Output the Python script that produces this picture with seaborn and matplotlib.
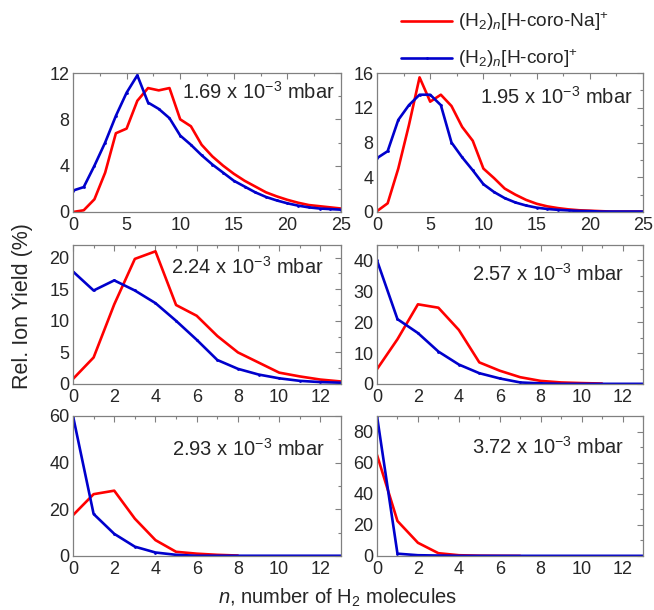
import numpy as np
import pandas as pd
import matplotlib
matplotlib.use("Agg")
import matplotlib.pyplot as plt
from matplotlib.ticker import MultipleLocator
import seaborn as sns

# ---------------- data ----------------
pressures = ["1.69", "1.95", "2.24", "2.57", "2.93", "3.72"]

na_169 = [0.0, 0.15, 1.1, 3.4, 6.8, 7.2, 9.6, 10.7, 10.5, 10.7, 8.0, 7.4, 5.8, 4.8, 4.0,
          3.3, 2.7, 2.2, 1.7, 1.35, 1.05, 0.8, 0.6, 0.5, 0.4, 0.3]
h_169 = [1.85, 2.15, 4.0, 6.0, 8.3, 10.3, 11.8, 9.45, 8.9, 8.1, 6.6, 5.8, 4.9, 4.1, 3.4,
         2.7, 2.2, 1.7, 1.3, 1.0, 0.75, 0.55, 0.4, 0.3, 0.25, 0.2]

na_195 = [0.1, 1.0, 5.0, 10.0, 15.5, 12.7, 13.5, 12.2, 9.8, 8.2, 5.0, 3.9, 2.7, 2.0, 1.4,
          0.95, 0.65, 0.45, 0.3, 0.2, 0.15, 0.1, 0.05, 0.05, 0.05, 0.05]
h_195 = [6.2, 7.0, 10.6, 12.3, 13.5, 13.5, 12.3, 8.0, 6.3, 4.8, 3.2, 2.3, 1.6, 1.1, 0.75,
         0.5, 0.35, 0.25, 0.18, 0.12, 0.1, 0.05, 0.05, 0.05, 0.05, 0.05]

na_224 = [0.8, 4.2, 12.6, 19.8, 21.0, 12.5, 10.8, 7.6, 5.0, 3.4, 1.8, 1.2, 0.7, 0.4]
h_224 = [17.8, 14.8, 16.4, 14.8, 12.8, 10.0, 7.0, 3.8, 2.4, 1.5, 0.9, 0.5, 0.3, 0.2]

na_257 = [4.8, 14.5, 25.8, 24.7, 17.5, 7.0, 4.3, 2.2, 1.0, 0.5, 0.3, 0.15]
h_257 = [40.0, 21.0, 16.5, 10.5, 6.3, 3.5, 1.8, 0.5, 0.2, 0.05, 0.05, 0.05, 0.05, 0.05]

na_293 = [17.5, 26.5, 28.0, 16.0, 6.8, 1.8, 1.0, 0.5, 0.2]
h_293 = [60.0, 18.0, 9.5, 4.0, 1.5, 0.5, 0.1, 0.1, 0.1, 0.1, 0.1, 0.1, 0.1, 0.1]

na_372 = [65.0, 22.5, 8.5, 1.8, 0.5, 0.2, 0.1, 0.05]
h_372 = [90.0, 1.5, 0.5, 0.3, 0.1, 0.1, 0.1, 0.1, 0.1, 0.1, 0.1, 0.1, 0.1, 0.1]

na_series = [na_169, na_195, na_224, na_257, na_293, na_372]
h_series = [h_169, h_195, h_224, h_257, h_293, h_372]

xmax = [25, 25, 13, 13, 13, 13]
xmajor = [5, 5, 2, 2, 2, 2]
xminor = [2.5, 2.5, 1, 1, 1, 1]
ymax = [12, 16, 22, 45, 60, 90]
ymajor = [4, 4, 5, 10, 20, 20]
yminor = [2, 2, 2.5, 5, 10, 10]

label_na = r"(H$_2$)$_{\mathit{n}}$[H-coro-Na]$^{+}$"
label_h = r"(H$_2$)$_{\mathit{n}}$[H-coro]$^{+}$"

# ---------------- style ----------------
sns.set_style("white")
plt.rcParams["font.family"] = ["Liberation Sans", "DejaVu Sans"]
plt.rcParams["mathtext.fontset"] = "custom"
plt.rcParams["mathtext.rm"] = "Liberation Sans"
plt.rcParams["mathtext.it"] = "Liberation Sans:italic"
plt.rcParams["mathtext.default"] = "regular"

RED = "#ff0000"
BLUE = "#0000cc"

fig = plt.figure(figsize=(6.54, 6.10), dpi=100)

lefts = [73 / 654, 377 / 654]
widths = [268 / 654, 266 / 654]
bottoms = [1 - 212 / 610, 1 - 384 / 610, 1 - 556 / 610]
heights = [139 / 610, 139 / 610, 140 / 610]

text_pos = [(0.975, 0.94), (0.963, 0.91), (0.935, 0.92), (0.93, 0.87), (0.94, 0.84), (0.93, 0.86)]

axes = []
for i in range(6):
    r, c = divmod(i, 2)
    ax = fig.add_axes([lefts[c], bottoms[r], widths[c], heights[r]])
    axes.append(ax)
    na = na_series[i]
    hh = h_series[i]
    df_na = pd.DataFrame({"n": np.arange(len(na)), "y": na})
    df_h = pd.DataFrame({"n": np.arange(len(hh)), "y": hh})
    sns.lineplot(data=df_na, x="n", y="y", ax=ax, color=RED, linewidth=1.9,
                 label=label_na if i == 0 else None, legend=False)
    sns.lineplot(data=df_h, x="n", y="y", ax=ax, color=BLUE, linewidth=1.9,
                 marker="o", markersize=2.0, markeredgewidth=0,
                 label=label_h if i == 0 else None, legend=False)
    ax.set_xlim(0, xmax[i])
    ax.set_ylim(0, ymax[i])
    ax.xaxis.set_major_locator(MultipleLocator(xmajor[i]))
    ax.xaxis.set_minor_locator(MultipleLocator(xminor[i]))
    ax.yaxis.set_major_locator(MultipleLocator(ymajor[i]))
    ax.yaxis.set_minor_locator(MultipleLocator(yminor[i]))
    ax.set_xlabel("")
    ax.set_ylabel("")
    ax.tick_params(which="both", direction="in", top=True, right=True,
                   color="#808080", labelsize=13)
    ax.tick_params(axis="x", which="both", pad=3.5)
    ax.tick_params(axis="y", which="both", pad=2.5)
    ax.tick_params(which="major", length=4, width=0.8)
    ax.tick_params(which="minor", length=2.5, width=0.8)
    for s in ax.spines.values():
        s.set_color("#808080")
        s.set_linewidth(0.9)
    tx, ty = text_pos[i]
    ax.text(tx, ty, pressures[i] + r" x 10$^{-3}$ mbar", transform=ax.transAxes,
            ha="right", va="top", fontsize=14.5)

handles, labels = axes[0].get_legend_handles_labels()
fig.legend(handles, labels, loc="upper left", bbox_to_anchor=(393 / 654, 1 - 3 / 610),
           frameon=False, fontsize=13.8, handlelength=2.7, handletextpad=0.3,
           labelspacing=0.75, borderaxespad=0)

fig.text(23 / 654, 1 - 306 / 610, "Rel. Ion Yield (%)", rotation=90,
         ha="center", va="center", fontsize=15.5)
fig.text(338 / 654, 1 - 598 / 610, r"$\mathit{n}$, number of H$_2$ molecules",
         ha="center", va="center", fontsize=14.5)

fig.savefig("out.png", dpi=100)
